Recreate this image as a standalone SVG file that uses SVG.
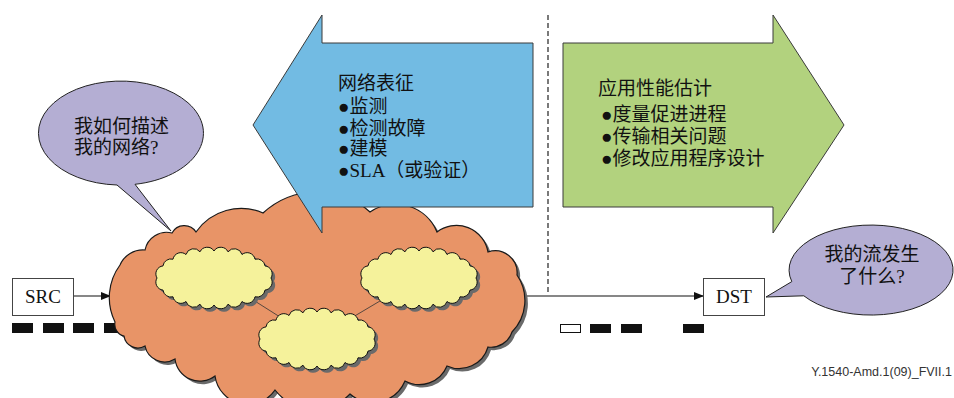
<svg xmlns="http://www.w3.org/2000/svg" xmlns:xlink="http://www.w3.org/1999/xlink" width="954" height="398" viewBox="0 0 954 398">
<style>
.cjk{font-family:"Liberation Serif","Noto Sans CJK SC",serif;font-size:19px;fill:#111}
.lbl{font-family:"Liberation Serif","Noto Sans CJK SC",serif;font-size:19px;fill:#111;text-anchor:middle}
.box{fill:#fff;stroke:#444;stroke-width:1}
.edge{fill:none;stroke:#222;stroke-width:1.2}
.thin{fill:none;stroke:#333;stroke-width:0.8}
.dash{fill:#111}
.shadow{fill:#6a6a6a}
.bubble{fill:#b4aed3;stroke:#222;stroke-width:1}
.yc{fill:#f5f29b;stroke:#111;stroke-width:1}
</style>
<defs>
<marker id="ah" markerWidth="10" markerHeight="8" refX="9" refY="4" orient="auto" markerUnits="userSpaceOnUse">
<path d="M0,0 L10,4 L0,8 Z" fill="#111"/>
</marker>
<path id="sc" d="M57,0 A8,8 0 0 1 51,12.1 A8,8 0 0 1 41,18.8 A8,8 0 0 1 28,23.5 A8,8 0 0 1 14,26.2 A8,8 0 0 1 0,27 A8,8 0 0 1 -14,26.2 A8,8 0 0 1 -28,23.5 A8,8 0 0 1 -41,18.8 A8,8 0 0 1 -51,12.1 A8,8 0 0 1 -57,0 A8,8 0 0 1 -51,-12.1 A8,8 0 0 1 -41,-18.8 A8,8 0 0 1 -28,-23.5 A8,8 0 0 1 -14,-26.2 A8,8 0 0 1 0,-27 A8,8 0 0 1 14,-26.2 A8,8 0 0 1 28,-23.5 A8,8 0 0 1 41,-18.8 A8,8 0 0 1 51,-12.1 A8,8 0 0 1 57,0 Z"/>
<path id="bigcloud" d="M115,322 A55,55 0 0 1 120,265 A25,25 0 0 1 145,250 A22,22 0 0 1 172,233 A14,14 0 0 1 196,232 A55,55 0 0 1 263,213 A80,80 0 0 1 370,212 A45,45 0 0 1 437,232 A32,32 0 0 1 488,252 A22,22 0 0 1 517,275 A45,45 0 0 1 512,332 A22,22 0 0 1 488,347 A30,30 0 0 1 447,366 A30,30 0 0 1 405,381 A35,35 0 0 1 350,394 A50,50 0 0 1 275,390 A33,33 0 0 1 215,376 A25,25 0 0 1 175,359 A20,20 0 0 1 145,346 A14,14 0 0 1 124,336 A12,12 0 0 1 115,322 Z"/>
</defs>

<g id="path-bars">
<rect class="dash" x="12" y="323" width="21" height="10"/>
<rect class="dash" x="43" y="323" width="21" height="10"/>
<rect class="dash" x="73" y="323" width="21" height="10"/>
<rect class="dash" x="104" y="323" width="21" height="10"/>
<rect x="560.5" y="324.5" width="20" height="8" fill="#fff" stroke="#111" stroke-width="1"/>
<rect class="dash" x="590" y="324" width="21" height="9"/>
<rect class="dash" x="621" y="324" width="21" height="9"/>
<rect class="dash" x="683" y="324" width="21" height="9"/>
</g>

<g id="connectors">
<line x1="73" y1="296" x2="110" y2="296" stroke="#111" stroke-width="1.2" marker-end="url(#ah)"/>
<line x1="524" y1="296" x2="703" y2="296" stroke="#111" stroke-width="1.2" marker-end="url(#ah)"/>
<line x1="548" y1="15" x2="548" y2="295" stroke="#222" stroke-width="1.2" stroke-dasharray="5,3"/>
</g>

<g id="network">
<use href="#bigcloud" class="shadow" transform="translate(3,3)"/>
<use href="#bigcloud" fill="#e89467" stroke="#1a1a1a" stroke-width="1.2"/>
<line class="thin" x1="250" y1="298" x2="280" y2="317"/>
<line class="thin" x1="385" y1="298" x2="353" y2="317"/>
<g id="subnet-a">
<use href="#sc" class="shadow" transform="translate(217,281)"/>
<use href="#sc" class="yc" transform="translate(214,278)"/>
</g>
<g id="subnet-b">
<use href="#sc" class="shadow" transform="translate(422,281)"/>
<use href="#sc" class="yc" transform="translate(419,278)"/>
</g>
<g id="subnet-c">
<use href="#sc" class="shadow" transform="translate(320,342)"/>
<use href="#sc" class="yc" transform="translate(317,339)"/>
</g>
</g>

<g id="src">
<rect class="box" x="12.5" y="278.5" width="61" height="37"/>
<text class="lbl" x="43" y="303">SRC</text>
</g>

<g id="bubble-left">
<path class="bubble" d="M135,184.3 L171,231 L117,185 A82.5,52 0 1 1 135,184.3 Z"/>
<text class="cjk" x="74" y="133">我如何描述</text>
<text class="cjk" x="74" y="154">我的网络?</text>
</g>

<g id="arrow-blue">
<path d="M253,125 L322,15 L322,43 L533,43 L533,207 L322,207 L322,233 Z" fill="#72bbe3" stroke="#3a3a3a" stroke-width="1"/>
<text class="cjk" x="338" y="90">网络表征</text>
<text class="cjk" x="338" y="113">●监测</text>
<text class="cjk" x="338" y="135">●检测故障</text>
<text class="cjk" x="338" y="155">●建模</text>
<text class="cjk" x="338" y="177">●SLA（或验证）</text>
</g>

<g id="arrow-green">
<path d="M563,43 L773,43 L773,15 L844,125 L773,233 L773,207 L563,207 Z" fill="#b2d27e" stroke="#3a3a3a" stroke-width="1"/>
<text class="cjk" x="598" y="95">应用性能估计</text>
<text class="cjk" x="601" y="121">●度量促进进程</text>
<text class="cjk" x="601" y="143">●传输相关问题</text>
<text class="cjk" x="601" y="165">●修改应用程序设计</text>
</g>

<g id="dst">
<rect class="box" x="703.5" y="278.5" width="61" height="37"/>
<text class="lbl" x="734" y="303">DST</text>
</g>

<g id="bubble-right">
<path class="bubble" d="M803.8,295.8 L766,297 L791.8,281.6 A82,45 0 1 1 803.8,295.8 Z"/>
<text class="lbl" x="872" y="261">我的流发生</text>
<text class="lbl" x="872" y="283">了什么?</text>
</g>

<text x="952" y="376" font-family="Liberation Sans, Arial, sans-serif" font-size="12.5" fill="#333" text-anchor="end">Y.1540-Amd.1(09)_FVII.1</text>
</svg>
